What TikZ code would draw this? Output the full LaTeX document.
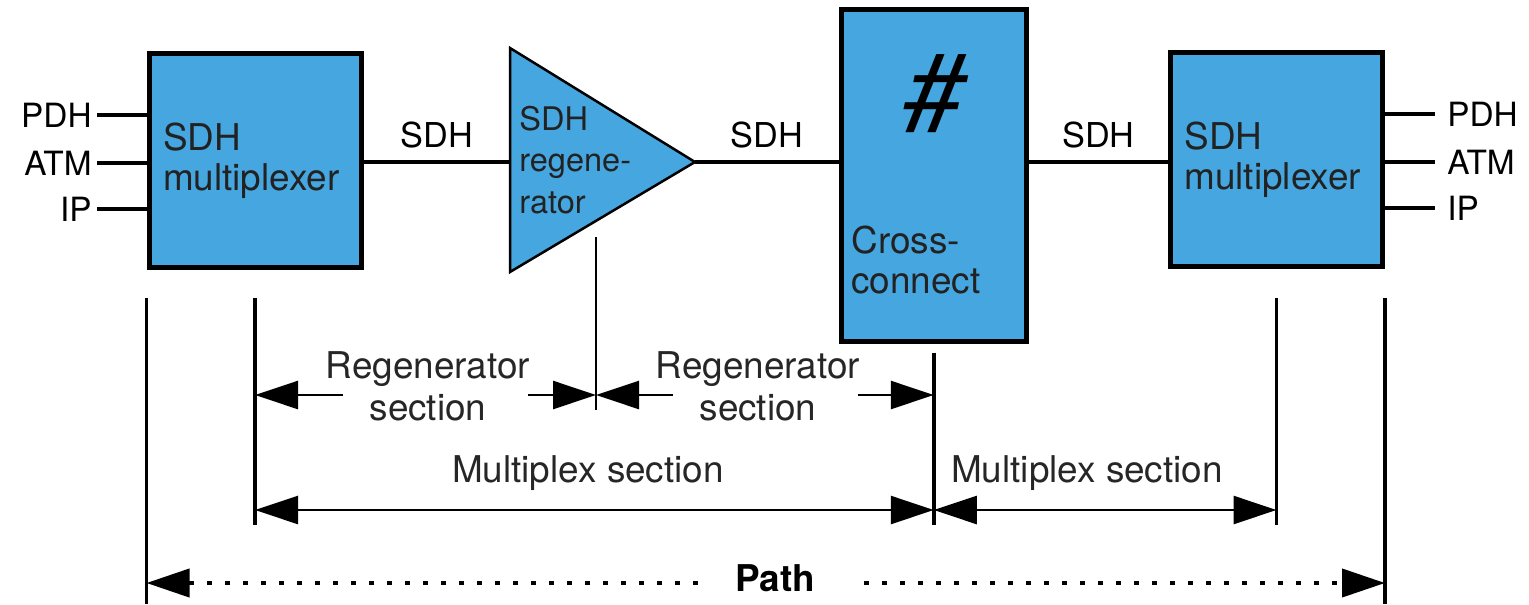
\documentclass[tikz,border=0pt]{standalone}
\usepackage{fontspec}
\setmainfont{TeX Gyre Heros}
\usetikzlibrary{arrows.meta,calc}
\definecolor{sdhblue}{HTML}{45A6E0}
\definecolor{boxtext}{HTML}{222222}

\begin{document}
\begin{tikzpicture}[
    x=0.2mm, y=-0.2mm,
    font=\rmfamily,
    >={Triangle[length=8.6mm,width=5.6mm]},
    muxbox/.style  = {draw=black, fill=sdhblue, text=boxtext, line width=1mm,
                      minimum width=42.4mm, minimum height=42.6mm,
                      text width=36.8mm, inner xsep=2.8mm, align=left,
                      font=\fontsize{21}{23}\selectfont},
    xcbox/.style   = {draw=black, fill=sdhblue, line width=1mm,
                      minimum width=37mm, minimum height=66.2mm},
    regen/.style   = {draw=black, fill=sdhblue, line width=0.5mm, line join=miter},
    intext/.style  = {text=boxtext, align=left, inner sep=0pt},
    link/.style    = {draw=black, line width=0.8mm},
    ioline/.style  = {draw=black, line width=0.9mm},
    iolbl/.style   = {font=\fontsize{19}{22}\selectfont, inner sep=0pt},
    sdhlbl/.style  = {font=\fontsize{19.5}{22}\selectfont, anchor=base, inner sep=0pt},
    tick/.style    = {draw=black, line width=0.75mm},
    dim/.style     = {draw=black, line width=0.5mm, ->},
    dimlbl/.style  = {font=\fontsize{21}{24}\selectfont, text=black!85,
                      align=center, inner sep=0pt},
    pathline/.style= {draw=black, line width=0.8mm, dash pattern=on 1mm off 2.6mm, ->},
  ]
  \useasboundingbox (0,0) rectangle (1529,604);

  % --- Network elements ------------------------------------------------
  \node[muxbox] (muxL) at (255,160.5) {SDH\\multiplexer};
  \node[muxbox] (muxR) at (1276.5,159.5) {SDH\\multiplexer};

  \coordinate (rgtop) at (510,48);
  \coordinate (rgbot) at (510,272);
  \coordinate (rgtip) at (695,162);
  \coordinate (rgin)  at (510,162);
  \draw[regen] (rgtop) -- (rgtip) -- (rgbot) -- cycle;
  \node[intext, anchor=west, font=\fontsize{18.5}{23.8}\selectfont]
    (rgtxt) at (519,160) {SDH\\regene-\\rator};

  \node[xcbox] (xc) at (933.75,175.5) {};
  \node[font=\itshape\fontsize{62}{62}\selectfont, inner sep=0pt]
    (hash) at (934,94) {\#};
  \node[intext, anchor=west, font=\fontsize{21}{23.2}\selectfont]
    (xctxt) at (851,260) {Cross-\\connect};

  % --- SDH links -------------------------------------------------------
  \draw[link] (muxL.east |- rgin) -- (rgin);
  \draw[link] (rgtip) -- (xc.west |- rgtip);
  \draw[link] (xc.east |- rgin) -- (muxR.west |- rgin);
  \node[sdhlbl] (sdh1) at ($(muxL.east |- rgin)!0.5!(rgin)+(0,-15)$) {SDH};
  \node[sdhlbl] (sdh2) at ($(rgtip)!0.5!(xc.west |- rgtip)+(0,-15)$) {SDH};
  \node[sdhlbl] (sdh3) at ($(xc.east |- rgin)!0.5!(muxR.west |- rgin)+(0,-15)$) {SDH};

  % --- Tributaries -----------------------------------------------------
  \foreach \lbl/\yy in {PDH/115, ATM/163, IP/209}{
    \node[iolbl, anchor=east] (\lbl-L) at (92,\yy) {\lbl};
    \draw[ioline] ($(\lbl-L.east)+(5,0)$) -- (muxL.west |- \lbl-L);
    \node[iolbl, anchor=west] (\lbl-R) at (1447,\yy-1) {\lbl};
    \draw[ioline] (muxR.east |- \lbl-R) -- ($(\lbl-R.west)+(-12,0)$);
  }

  % --- Section boundaries ----------------------------------------------
  \coordinate (pathL-a) at (muxL.west  |- 0,298);
  \coordinate (pathL-b) at (muxL.west  |- 0,604);
  \coordinate (mxL-a)   at (muxL.south |- 0,298);
  \coordinate (mxL-b)   at (muxL.south |- 0,525);
  \coordinate (rgM-a)   at (596,237);
  \coordinate (rgM-b)   at (596,410);
  \coordinate (xcM-a)   at ($(xc.south)+(0,9)$);
  \coordinate (xcM-b)   at (xc.south |- 0,525);
  \coordinate (mxR-a)   at (muxR.south |- 0,298);
  \coordinate (mxR-b)   at (muxR.south |- 0,525);
  \coordinate (pathR-a) at (muxR.east  |- 0,298);
  \coordinate (pathR-b) at (muxR.east  |- 0,604);
  \foreach \n in {pathL,mxL,xcM,mxR,pathR}{
    \draw[tick] (\n-a) -- (\n-b);
  }
  \draw[draw=black, line width=0.4mm] (rgM-a) -- (rgM-b);

  \coordinate (rowRS) at (0,395);
  \coordinate (rowMS) at (0,510);
  \coordinate (rowP)  at (0,583);

  % Regenerator sections
  \node[dimlbl] (rs1) at (428,386) {Regenerator\\section};
  \node[dimlbl] (rs2) at (758,386) {Regenerator\\section};
  \draw[dim] ($(rs1.west |- rowRS)+(17,0)$) -- (mxL-a |- rowRS);
  \draw[dim] ($(rs1.east |- rowRS)+(-2,0)$) -- (rgM-a |- rowRS);
  \draw[dim] ($(rs2.west |- rowRS)+(17,0)$) -- (rgM-a |- rowRS);
  \draw[dim] ($(rs2.east |- rowRS)+(-2,0)$) -- (xcM-a |- rowRS);

  % Multiplex sections
  \node[dimlbl] (ms1) at (588,473) {Multiplex section};
  \node[dimlbl] (ms2) at (1087,473) {Multiplex section};
  \draw[dim, <->] (mxL-a |- rowMS) -- (xcM-a |- rowMS);
  \draw[dim, <->] (xcM-a |- rowMS) -- (mxR-a |- rowMS);

  % Path
  \node[font=\bfseries\fontsize{21}{24}\selectfont, inner sep=0pt]
    (pathtxt) at (775,578) {Path};
  \draw[pathline] ($(pathtxt.west |- rowP)+(-37,0)$) -- (pathL-a |- rowP);
  \draw[pathline] ($(pathtxt.east |- rowP)+(49,0)$) -- (pathR-a |- rowP);

\end{tikzpicture}
\end{document}
